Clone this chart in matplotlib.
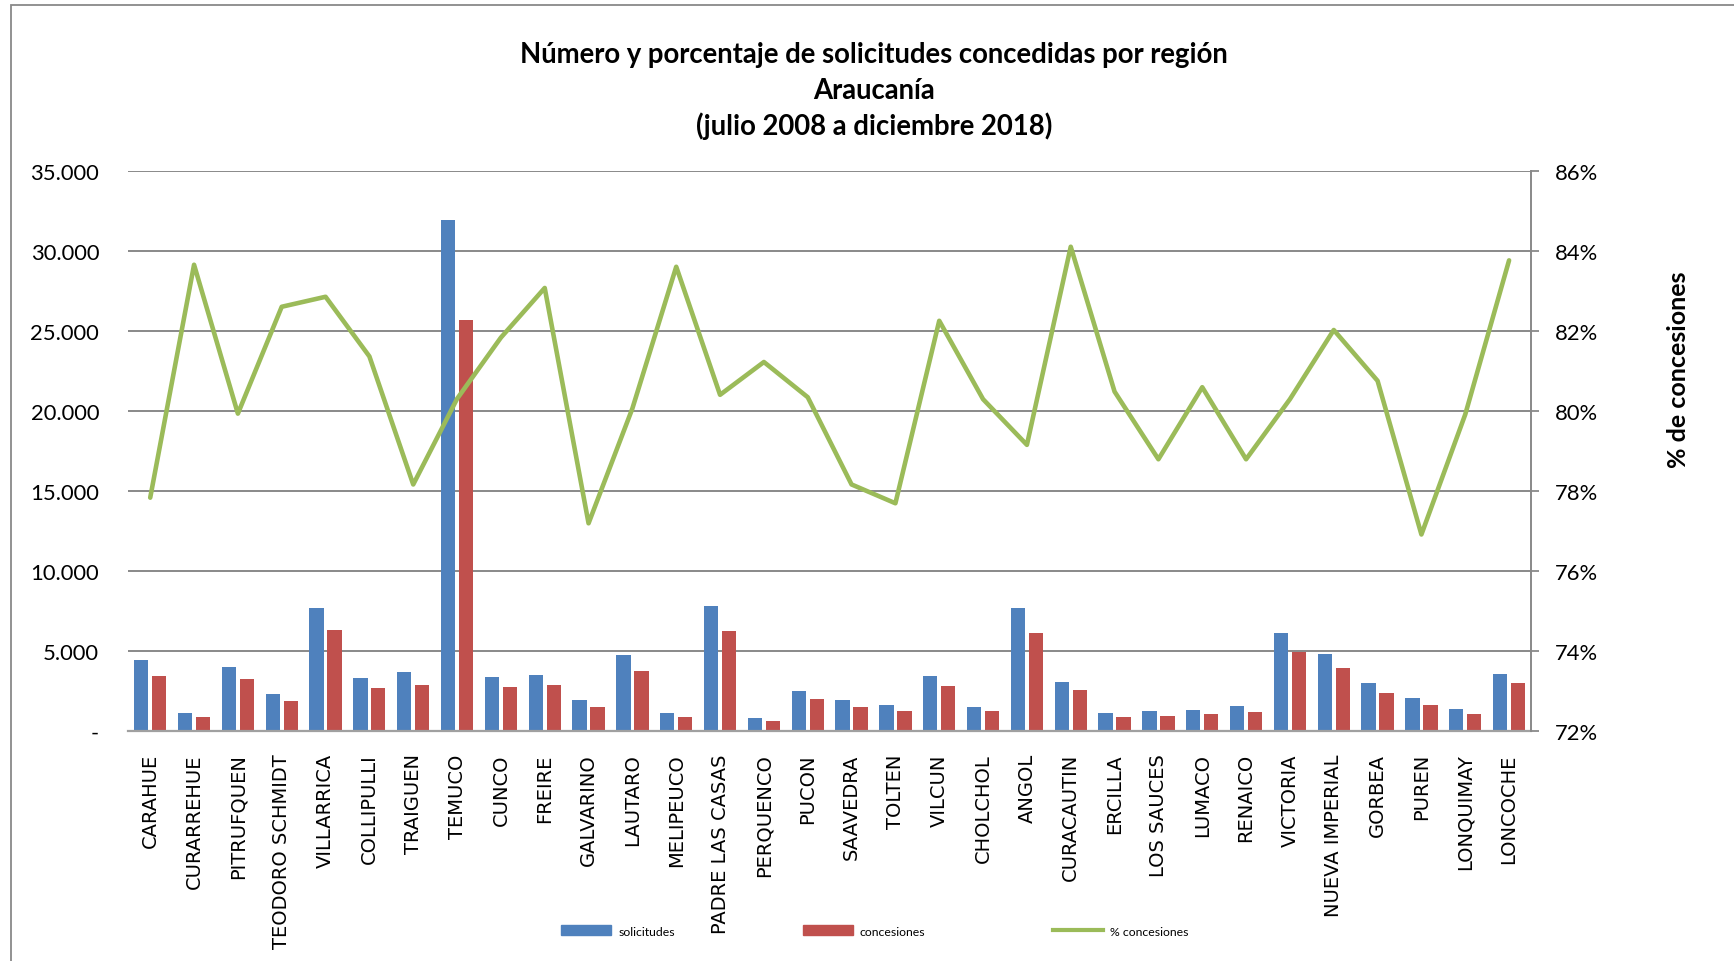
import matplotlib
matplotlib.use("Agg")
import matplotlib.pyplot as plt
import matplotlib.patches as mpatches
import matplotlib.lines as mlines
from matplotlib.ticker import FuncFormatter
import numpy as np

# ===========================================================
# Datos
# ===========================================================
comunas = [
    "CARAHUE", "CURARREHUE", "PITRUFQUEN", "TEODORO SCHMIDT", "VILLARRICA",
    "COLLIPULLI", "TRAIGUEN", "TEMUCO", "CUNCO", "FREIRE", "GALVARINO",
    "LAUTARO", "MELIPEUCO", "PADRE LAS CASAS", "PERQUENCO", "PUCON",
    "SAAVEDRA", "TOLTEN", "VILCUN", "CHOLCHOL", "ANGOL", "CURACAUTIN",
    "ERCILLA", "LOS SAUCES", "LUMACO", "RENAICO", "VICTORIA",
    "NUEVA IMPERIAL", "GORBEA", "PUREN", "LONQUIMAY", "LONCOCHE",
]

solicitudes = [
    4420, 1100, 4020, 2330, 7670, 3310, 3710, 31950, 3400, 3480, 1920,
    4730, 1100, 7810, 790, 2520, 1920, 1650, 3440, 1520, 7710, 3080,
    1100, 1230, 1310, 1540, 6130, 4800, 3010, 2090, 1370, 3560,
]

concesiones = [
    3440, 900, 3230, 1900, 6330, 2670, 2900, 25650, 2750, 2900, 1480,
    3770, 900, 6270, 650, 2020, 1500, 1270, 2830, 1230, 6100, 2580,
    880, 940, 1060, 1210, 4930, 3940, 2400, 1640, 1060, 3010,
]

pct_concesiones = [
    77.83, 83.65, 79.93, 82.60, 82.85, 81.36, 78.16, 80.30, 81.83, 83.07,
    77.19, 80.06, 83.60, 80.40, 81.22, 80.34, 78.16, 77.69, 82.25, 80.29,
    79.15, 84.10, 80.48, 78.79, 80.59, 78.79, 80.29, 82.02, 80.75, 76.91,
    79.91, 83.76,
]

titulo = [
    "Número y porcentaje de solicitudes concedidas por región",
    "Araucanía",
    "(julio 2008 a diciembre 2018)",
]

AZUL = "#4F81BD"
ROJO = "#C0504D"
VERDE = "#9BBB59"
GRIS = "#898989"

# ===========================================================
# Figura
# ===========================================================
W, H = 1734, 962
fig = plt.figure(figsize=(W / 100, H / 100), dpi=100)
ax = fig.add_axes([128.3 / W, 1 - 732 / H, (1531 - 128.3) / W, (732 - 171.7) / H])

# marco gris del área del gráfico (solo se ven arriba e izquierda)
fig.patches.append(mpatches.Rectangle(
    (11 / W, -0.05), 1.2, 1.05 - 5.5 / H, transform=fig.transFigure,
    fill=False, edgecolor=GRIS, lw=1.3))

x = np.arange(len(comunas))
ancho = 0.325
ax.bar(x - 0.205, solicitudes, ancho, color=AZUL, zorder=2)
ax.bar(x + 0.205, concesiones, ancho, color=ROJO, zorder=2)

ax.set_xlim(-0.5, len(comunas) - 0.5)
ax.set_ylim(0, 35000)
ax.set_yticks(np.arange(0, 35001, 5000))
ax.yaxis.set_major_formatter(FuncFormatter(
    lambda v, p: "-" if v == 0 else f"{int(v):,}".replace(",", ".")))
ax.grid(axis="y", color=GRIS, lw=1.4)
ax.set_axisbelow(True)

ax.set_xticks(x)
ax.set_xticklabels(comunas, rotation=90, fontsize=14, family="DejaVu Sans")
ax.tick_params(axis="x", length=0, pad=16)
ax.tick_params(axis="y", length=0, pad=21, labelsize=15.8)
for t in ax.get_yticklabels():
    t.set_family("Lato")

for s in ["left", "top", "right"]:
    ax.spines[s].set_visible(False)
ax.spines["bottom"].set_color("#A0A0A0")
ax.spines["bottom"].set_linewidth(1.6)

# eje secundario: porcentaje
ax2 = ax.twinx()
ax2.plot(x, pct_concesiones, color=VERDE, lw=3.3, solid_joinstyle="round",
         solid_capstyle="round", zorder=3)
ax2.set_ylim(72, 86)
ax2.set_yticks(np.arange(72, 86.1, 2))
ax2.yaxis.set_major_formatter(FuncFormatter(lambda v, p: f"{int(round(v))}%"))
ax2.tick_params(axis="y", length=6, width=1.3, color=GRIS, pad=11, labelsize=15.8)
for t in ax2.get_yticklabels():
    t.set_family("Lato")
for s in ["left", "top", "bottom"]:
    ax2.spines[s].set_visible(False)
ax2.spines["right"].set_color(GRIS)
ax2.spines["right"].set_linewidth(1.4)

fig.text(1679 / W, 1 - 370 / H, "% de concesiones", rotation=90, ha="center",
         va="center", fontsize=18, fontweight="bold", family="Lato")

# ===========================================================
# Título
# ===========================================================
for linea, yy in zip(titulo, [55, 91, 126]):
    fig.text(874 / W, 1 - yy / H, linea, ha="center", va="center",
             fontsize=19.8, fontweight="bold", family="Lato")

# ===========================================================
# Leyenda
# ===========================================================
h1 = mpatches.Patch(color=AZUL, label="solicitudes")
h2 = mpatches.Patch(color=ROJO, label="concesiones")
h3 = mlines.Line2D([], [], color=VERDE, lw=3, label="% concesiones")
fig.legend(handles=[h1, h2, h3], loc="center", ncol=3,
           bbox_to_anchor=(875 / W, 1 - 932 / H), frameon=False,
           prop={"family": "Lato", "size": 8.8}, handlelength=4.1,
           handleheight=0.85, handletextpad=0.6, columnspacing=10.4)

fig.savefig("out.png", dpi=100)
